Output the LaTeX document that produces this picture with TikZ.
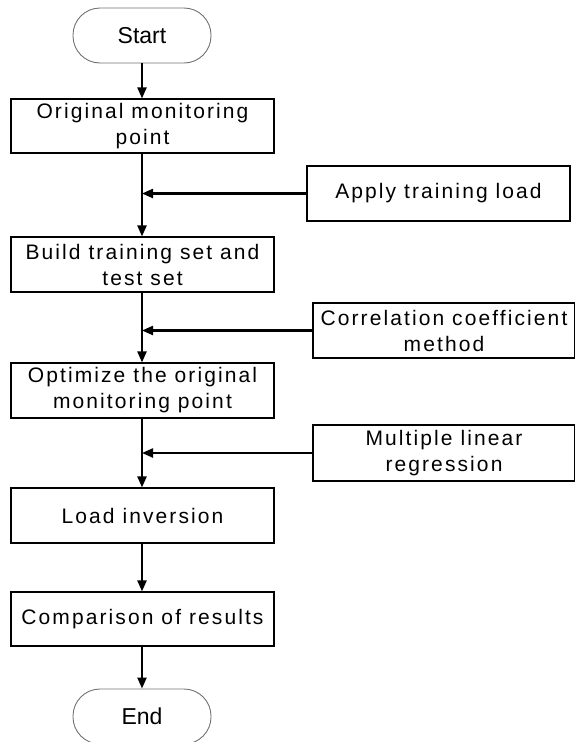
\documentclass[tikz,border=0pt]{standalone}
\usepackage{fontspec}
\setmainfont{Liberation Sans}
\newfontfamily\spacedfont[LetterSpace=10]{Liberation Sans}
\usetikzlibrary{arrows.meta}
\tikzset{
  procbox/.style={draw=black, line width=1.1pt, fill=white, minimum height=54pt, inner sep=0pt, align=center, font=\spacedfont\fontsize{21}{26}\selectfont},
  termbox/.style={draw=black!55, line width=0.9pt, fill=white, rounded corners=27pt, minimum width=138pt, minimum height=55pt, inner sep=0pt, font=\fontsize{23}{26}\selectfont},
  flow/.style={line width=2.2pt, -{Triangle[length=11pt,width=9pt]}}
}
\begin{document}
\begin{tikzpicture}[x=1pt,y=-1pt]
\useasboundingbox (0,0) rectangle (575,742);
\node[termbox] (start) at (142,35.5) {Start};
\node[procbox, minimum width=263pt] (b1) at (142.5,126) {Original monitoring\\point};
\node[procbox, minimum width=263pt, minimum height=55pt] (s1) at (438.5,193.5) {Apply training load};
\node[procbox, minimum width=263pt, minimum height=55pt] (b2) at (142.5,264.5) {Build training set and\\test set};
\node[procbox, minimum width=262pt, minimum height=55pt] (s2) at (444,330.5) {Correlation coefficient\\method};
\node[procbox, minimum width=263pt, minimum height=55pt] (b3) at (142.5,390.5) {Optimize the original\\monitoring point};
\node[procbox, minimum width=262pt, minimum height=56pt] (s3) at (444,453) {Multiple linear\\regression};
\node[procbox, minimum width=263pt, minimum height=55pt] (b4) at (142.5,515.5) {Load inversion};
\node[procbox, minimum width=263pt] (b5) at (142.5,619) {Comparison of results};
\node[termbox] (end) at (142,716.5) {End};
\draw[flow] (start.south) -- (b1.north -| start.south);
\draw[flow] (b1.south -| start.south) -- (b2.north -| start.south);
\draw[flow] (b2.south -| start.south) -- (b3.north -| start.south);
\draw[flow] (b3.south -| start.south) -- (b4.north -| start.south);
\draw[flow] (b4.south -| start.south) -- (b5.north -| start.south);
\draw[flow] (b5.south -| start.south) -- (end.north);
\draw[flow] (s1.west) -- (s1.west -| start.south);
\draw[flow] (s2.west) -- (s2.west -| start.south);
\draw[flow] (s3.west) -- (s3.west -| start.south);
\end{tikzpicture}
\end{document}
